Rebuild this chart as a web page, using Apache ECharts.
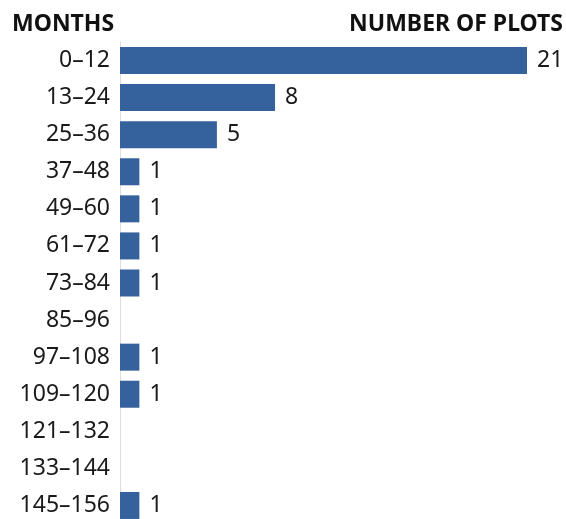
<!DOCTYPE html>
<html>
<head>
<meta charset="utf-8">
<script src="https://cdn.jsdelivr.net/npm/echarts@6/dist/echarts.min.js"></script>
<style>
  html, body { margin: 0; padding: 0; background: #fff; }
  #chart { width: 566px; height: 519px; }
</style>
</head>
<body>
<div id="chart"></div>
<script>
  // age bands (months) and plot counts
  var months = ['0–12', '13–24', '25–36', '37–48', '49–60', '61–72', '73–84',
                '85–96', '97–108', '109–120', '121–132', '133–144', '145–156'];
  var plots = [21, 8, 5, 1, 1, 1, 1, 0, 1, 1, 0, 0, 1];

  var fontFamily = '"Noto Sans", sans-serif';
  var chart = echarts.init(document.getElementById('chart'));

  chart.setOption({
    animation: false,
    title: [
      {
        text: 'MONTHS',
        left: 12, top: 13, padding: 0,
        textStyle: { fontFamily: fontFamily, fontSize: 23, fontWeight: 'bold', color: '#111' }
      },
      {
        text: 'NUMBER OF PLOTS',
        right: 3, top: 13, padding: 0,
        textStyle: { fontFamily: fontFamily, fontSize: 23, fontWeight: 'bold', color: '#111' }
      }
    ],
    grid: { left: 120, right: 39, top: 42, bottom: -5, containLabel: false, outerBoundsMode: 'none' },
    xAxis: {
      type: 'value',
      min: 0,
      max: 21,
      show: false
    },
    yAxis: {
      type: 'category',
      data: months,
      inverse: true,
      axisTick: { show: false },
      axisLine: { show: true, lineStyle: { color: '#dddddd', width: 1 } },
      axisLabel: { margin: 10, fontFamily: fontFamily, fontSize: 23, color: '#1a1a1a' }
    },
    series: [{
      type: 'bar',
      data: plots,
      barWidth: 27,
      itemStyle: { color: '#35619d' },
      label: {
        show: true,
        position: 'right',
        distance: 10,
        fontFamily: fontFamily,
        fontSize: 23,
        color: '#1a1a1a',
        formatter: function (p) { return p.value ? String(p.value) : ''; }
      }
    }]
  });
</script>
</body>
</html>
